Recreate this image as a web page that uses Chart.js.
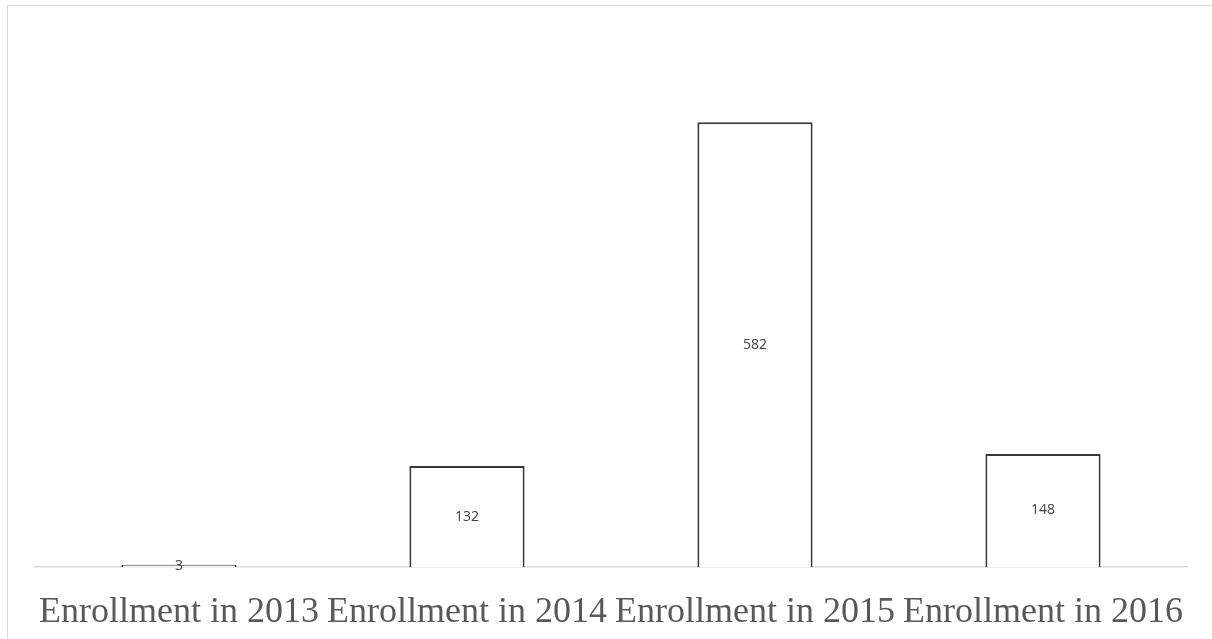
<!DOCTYPE html>
<html>
<head>
<meta charset="utf-8">
<script src="https://cdn.jsdelivr.net/npm/chart.js@4"></script>
<style>
  body { margin: 0; background: #fff; }
  #frame {
    position: absolute; left: 7px; top: 5px;
    width: 1220px; height: 650px;
    border: 1px solid #d9d9d9; box-sizing: border-box;
  }
  #wrap { position: absolute; left: 0; top: 0; width: 1212px; height: 639px; }
</style>
</head>
<body>
<div id="frame"></div>
<div id="wrap"><canvas id="enrollChart"></canvas></div>
<script>
// Enrollment per year
const years = ['Enrollment in 2013', 'Enrollment in 2014', 'Enrollment in 2015', 'Enrollment in 2016'];
const enrollment = [3, 132, 582, 148];

// writes each value in the middle of its bar
const barValues = {
  id: 'barValues',
  afterDatasetsDraw(chart) {
    const ctx = chart.ctx;
    const meta = chart.getDatasetMeta(0);
    ctx.save();
    ctx.font = '14px "Open Sans", "Liberation Sans", sans-serif';
    ctx.fillStyle = '#404040';
    ctx.textAlign = 'center';
    ctx.textBaseline = 'middle';
    meta.data.forEach((bar, i) => {
      const mid = (bar.y + bar.base) / 2;
      ctx.fillText(String(enrollment[i]), bar.x, mid);
    });
    ctx.restore();
  }
};

const ctx = document.getElementById('enrollChart');
new Chart(ctx, {
  type: 'bar',
  data: {
    labels: years,
    datasets: [{
      data: enrollment,
      backgroundColor: '#ffffff',
      borderColor: '#3a3a3a',
      borderWidth: 2,
      barPercentage: 0.4,
      categoryPercentage: 1,
    }]
  },
  options: {
    responsive: true,
    maintainAspectRatio: false,
    animation: false,
    layout: {
      padding: { left: 35, right: 25, top: 32, bottom: 0 }
    },
    plugins: {
      legend: { display: false },
      tooltip: { enabled: false }
    },
    scales: {
      x: {
        grid: { display: false, drawTicks: false, tickLength: 0 },
        border: { color: '#d9d9d9', width: 1.5 },
        ticks: {
          color: '#595959',
          padding: 24,
          maxRotation: 0,
          autoSkip: false,
          font: { family: '"Liberation Serif", "Times New Roman", serif', size: 36 }
        },
        // fixed axis band so the baseline sits where it should
        afterFit(scale) { scale.height = 72; }
      },
      y: {
        display: false,
        min: 0,
        max: 700
      }
    }
  },
  plugins: [barValues]
});
</script>
</body>
</html>
